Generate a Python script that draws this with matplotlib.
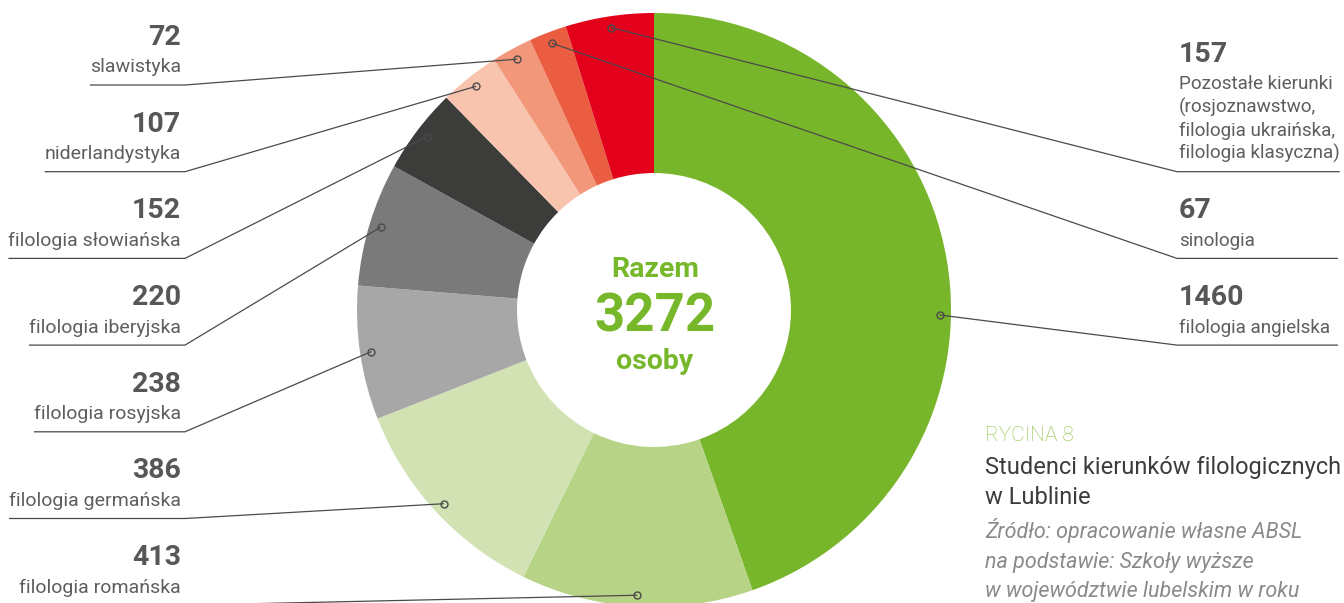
import numpy as np
import matplotlib
matplotlib.use("Agg")
import matplotlib.pyplot as plt

plt.rcParams['font.family'] = ['Roboto', 'DejaVu Sans']

# ---- data ----
categories = ['filologia angielska', 'filologia romańska', 'filologia germańska',
              'filologia rosyjska', 'filologia iberyjska', 'filologia słowiańska',
              'niderlandystyka', 'slawistyka', 'sinologia',
              'Pozostałe kierunki\n(rosjoznawstwo,\nfilologia ukraińska,\nfilologia klasyczna)']
values = [1460, 413, 386, 238, 220, 152, 107, 72, 67, 157]
colors = ['#77b52a', '#b6d386', '#d2e2b3', '#a7a7a7', '#7a7a7a', '#3c3c3b',
          '#f8c4ae', '#f3977a', '#eb5d40', '#e2001a']
total = sum(values)

# label placement: side and row on the label grid
sides = ['R', 'L', 'L', 'L', 'L', 'L', 'L', 'L', 'R', 'R']
rows = [3, 6, 5, 4, 3, 2, 1, 0, 2, 1]
dot_angle_override = {0: -1.0}

W, H = 1344, 603
fig = plt.figure(figsize=(W / 100, H / 100), dpi=100)
ax = fig.add_axes([0, 0, 1, 1])

def Y(y):
    return H - y

CX, CY, R, RI = 654, 310, 297, 137
wedges, _ = ax.pie(values, colors=colors, startangle=90, counterclock=False,
                   center=(CX, Y(CY)), radius=R,
                   wedgeprops=dict(width=R - RI, linewidth=0))
ax.set_xlim(0, W)
ax.set_ylim(0, H)
ax.set_aspect('auto')
ax.axis('off')

line_col = '#4a4a4a'
num_col = '#575756'
name_col = '#5e5e5e'

fig.canvas.draw()
renderer = fig.canvas.get_renderer()

for i, w in enumerate(wedges):
    mid = (w.theta1 + w.theta2) / 2
    ang = np.deg2rad(dot_angle_override.get(i, mid))
    rd = 0.962 * R
    dx = CX + rd * np.cos(ang)
    dy = Y(CY) + rd * np.sin(ang)
    u = 85 + 86.7 * rows[i]
    lines = categories[i].split('\n')
    n = len(lines)
    if sides[i] == 'L':
        tx, ha, ex, fs = 181, 'right', 185, 14.0
    else:
        tx, ha, ex, fs = 1179, 'left', 1177, 13.6
    texts = []
    for k, ln in enumerate(lines):
        yb = u - 12.5 - 23.3 * (n - 1 - k)
        texts.append(ax.text(tx, Y(yb), ln, ha=ha, va='baseline', fontsize=fs,
                             color=name_col, fontweight='normal'))
    nb = u - 12.5 - 23.3 * (n - 1) - 27.5
    texts.append(ax.text(tx, Y(nb), str(values[i]), ha=ha, va='baseline',
                         fontsize=20.5, color=num_col, fontweight='bold'))
    inv = ax.transData.inverted()
    if sides[i] == 'L':
        x0 = min(inv.transform(t.get_window_extent(renderer))[0, 0] for t in texts)
        ax.plot([dx, ex, x0], [dy, Y(u), Y(u)], color=line_col, lw=0.9,
                solid_capstyle='butt', zorder=3)
    else:
        x1 = max(inv.transform(t.get_window_extent(renderer))[1, 0] for t in texts)
        x1 = max(x1, 1338)
        ax.plot([dx, ex, x1], [dy, Y(u), Y(u)], color=line_col, lw=0.9,
                solid_capstyle='butt', zorder=3)
    ax.plot([dx], [dy], marker='o', ms=5, mfc='none', mec=line_col, mew=1.0, zorder=4)

# centre text
green = '#76b82a'
ax.text(CX + 1, Y(CY - 33), 'Razem', ha='center', va='baseline', fontsize=20.5,
        fontweight='bold', color=green)
ax.text(CX + 1, Y(CY + 22), f'{total}', ha='center', va='baseline', fontsize=38,
        fontweight='bold', color=green)
ax.text(CX + 1, Y(CY + 59), 'osoby', ha='center', va='baseline', fontsize=20.5,
        fontweight='bold', color=green)

# caption
ax.text(985, Y(441), 'RYCINA 8', ha='left', va='baseline', fontsize=15,
        fontweight='light', color='#8cc43f')
ax.text(985, Y(474), 'Studenci kierunków filologicznych', ha='left', va='baseline',
        fontsize=17, color='#3c3c3b')
ax.text(985, Y(504), 'w Lublinie', ha='left', va='baseline', fontsize=17, color='#3c3c3b')
for yb, t in [(538, 'Źródło: opracowanie własne ABSL'),
              (568, 'na podstawie: Szkoły wyższe'),
              (597, 'w województwie lubelskim w roku')]:
    ax.text(985, Y(yb), t, ha='left', va='baseline', fontsize=15.5, style='italic',
            fontweight='normal', color='#8a8a8a')

fig.savefig('out.png', dpi=100)
